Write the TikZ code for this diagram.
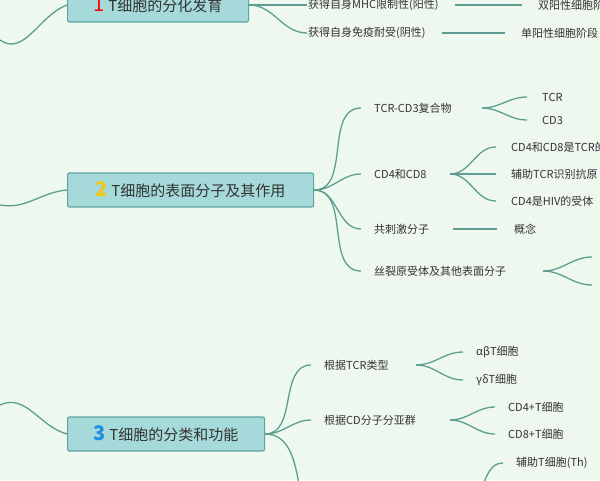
\documentclass[tikz,border=0pt]{standalone}
\usepackage{fontspec}
\setmainfont{Noto Sans CJK SC}
\definecolor{bg}{HTML}{EEF8EE}
\definecolor{boxf}{HTML}{A6D9D9}
\definecolor{boxd}{HTML}{5CA69F}
\definecolor{ln}{HTML}{5E9E92}
\definecolor{tx}{HTML}{333333}
\tikzset{
  mainbox/.style={draw=boxd,line width=1.2pt,fill=boxf,rounded corners=2pt,anchor=west,font=\fontsize{15}{17}\selectfont,text=tx,minimum height=34pt,inner xsep=6pt},
  leaf/.style={anchor=west,font=\fontsize{11}{13}\selectfont,text=tx,inner sep=1pt},
  br/.style={draw=ln,line width=1.3pt},
}
\begin{document}
\begin{tikzpicture}[x=1pt,y=-1pt]
\fill[bg] (0,0) rectangle (600,480);
\useasboundingbox (0,0) rectangle (600,480);
\clip (0,0) rectangle (600,480);
% main boxes
\node[mainbox,minimum width=181pt] (b1) at (67,5) {\textcolor{red}{\fontsize{20}{20}\selectfont 1} T细胞的分化发育};
\node[mainbox,minimum width=246pt] (b2) at (67,190) {\textcolor[HTML]{F5C518}{\fontsize{20}{20}\selectfont\bfseries 2} T细胞的表面分子及其作用};
\node[mainbox,minimum width=197pt] (b3) at (67,434) {\textcolor[HTML]{1E90E0}{\fontsize{20}{20}\selectfont\bfseries 3} T细胞的分类和功能};
\coordinate (l1) at (0,40);
\coordinate (l2) at (0,205);
\coordinate (l3) at (0,405);
\draw[br] (l1) to[out=-35,in=200] (b1.west);
\draw[br] (l2) to[out=-10,in=185] (b2.west);
\draw[br] (l3) to[out=25,in=165] (b3.west);
% branch 1
\node[leaf] (m1) at (307,5) {获得自身MHC限制性(阳性)};
\node[leaf] (m2) at (307,33) {获得自身免疫耐受(阴性)};
\node[leaf] (m1a) at (537,5) {双阳性细胞阶段};
\node[leaf] (m2a) at (520,33) {单阳性细胞阶段};
\draw[br] (b1.east) to[out=0,in=180] (m1.west);
\draw[br] (b1.east) to[out=0,in=180] (m2.west);
\draw[br] (m1.east)++(15,0) -- ([xshift=-15pt]m1a.west);
\draw[br] (m2.east)++(15,0) -- ([xshift=-15pt]m2a.west);
% branch 2
\node[leaf] (c1) at (373,108) {TCR-CD3复合物};
\node[leaf] (c2) at (373,174) {CD4和CD8};
\node[leaf] (c3) at (373,229) {共刺激分子};
\node[leaf] (c4) at (373,271) {丝裂原受体及其他表面分子};
\foreach \c in {c1,c2,c3,c4}{\draw[br] (b2.east) to[out=0,in=180] ([xshift=-12pt]\c.west);}
\node[leaf] (t1) at (541,97) {TCR};
\node[leaf] (t2) at (541,120) {CD3};
\coordinate (c1r) at (482,108);
\draw[br] (c1r) to[out=0,in=180] ([xshift=-14pt]t1.west);
\draw[br] (c1r) to[out=0,in=180] ([xshift=-14pt]t2.west);
\node[leaf] (d1) at (510,147) {CD4和CD8是TCR的共受体};
\node[leaf] (d2) at (510,174) {辅助TCR识别抗原};
\node[leaf] (d3) at (510,201) {CD4是HIV的受体};
\coordinate (c2r) at (450,174);
\foreach \d in {d1,d2,d3}{\draw[br] (c2r) to[out=0,in=180] ([xshift=-14pt]\d.west);}
\node[leaf] (e1) at (513,229) {概念};
\draw[br] (453,229) coordinate (c3r) -- ([xshift=-16pt]e1.west);
\coordinate (c4r) at (543,271);
\coordinate (f1) at (592,257);
\coordinate (f2) at (592,285);
\draw[br] (c4r) to[out=0,in=180] (f1);
\draw[br] (c4r) to[out=0,in=180] (f2);
% branch 3
\node[leaf] (g1) at (323,365) {根据TCR类型};
\node[leaf] (g2) at (323,420) {根据CD分子分亚群};
\coordinate (g3) at (300,490);
\draw[br] (b3.east) to[out=0,in=180] ([xshift=-12pt]g1.west);
\draw[br] (b3.east) to[out=0,in=180] ([xshift=-12pt]g2.west);
\draw[br] (b3.east) to[out=0,in=100] (g3);
\node[leaf] (h1) at (475,352) {αβT细胞};
\node[leaf] (h2) at (475,380) {γδT细胞};
\coordinate (g1r) at (416,365);
\draw[br] (g1r) to[out=0,in=180] ([xshift=-12pt]h1.west);
\draw[br] (g1r) to[out=0,in=180] ([xshift=-12pt]h2.west);
\node[leaf] (k1) at (507,407) {CD4+T细胞};
\node[leaf] (k2) at (507,434) {CD8+T细胞};
\coordinate (g2r) at (450,420);
\draw[br] (g2r) to[out=0,in=180] ([xshift=-12pt]k1.west);
\draw[br] (g2r) to[out=0,in=180] ([xshift=-12pt]k2.west);
\node[leaf] (n1) at (515,463) {辅助T细胞(Th)};
\coordinate (n0) at (480,490);
\draw[br] (n0) to[out=60,in=180] ([xshift=-12pt]n1.west);
\end{tikzpicture}
\end{document}
